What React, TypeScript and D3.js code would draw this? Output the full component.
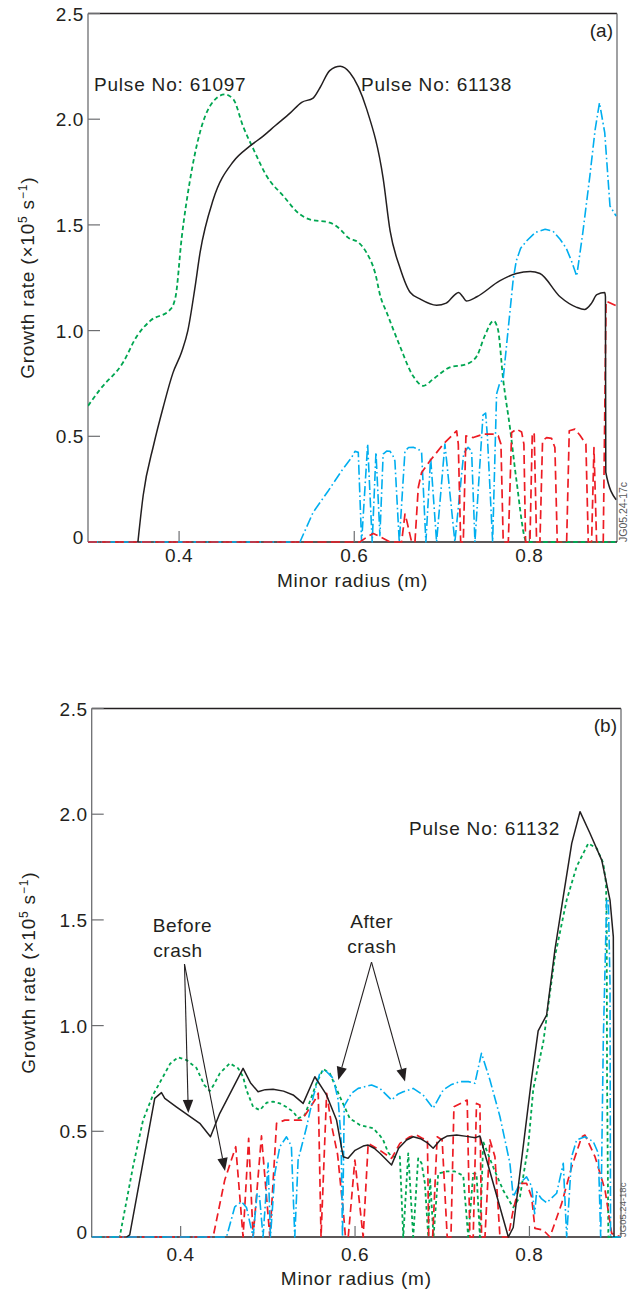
import React from 'react';
import * as d3 from 'd3';

type Pt = [number, number];

const W = 628;
const H = 1294;
const FONT = "'Liberation Sans', Arial, Helvetica, sans-serif";
const INK = '#231f20';
const AXIS_GREY = '#6d6e71';
const GREEN = '#00a651';
const RED = '#ed1c24';
const BLUE = '#00aeef';

// Axis ticks shared by both panels
const xTicks = [0.4, 0.6, 0.8];
const xTickLabels = ['0.4', '0.6', '0.8'];
const yTicks = [0, 0.5, 1.0, 1.5, 2.0, 2.5];
const yTickLabels = ['0', '0.5', '1.0', '1.5', '2.0', '2.5'];

// ---------- Panel (a): growth rate vs minor radius ----------
// Pulse 61138, solid
const a61138: Pt[] = [
  [0.353, 0], [0.359, 0.22], [0.371, 0.46], [0.382, 0.64], [0.393, 0.8], [0.403, 0.9],
  [0.41, 1.0], [0.418, 1.2], [0.424, 1.37], [0.439, 1.62], [0.462, 1.8], [0.48, 1.87],
  [0.496, 1.92], [0.51, 1.97], [0.527, 2.03], [0.54, 2.08], [0.553, 2.1], [0.561, 2.15],
  [0.572, 2.23], [0.584, 2.25], [0.595, 2.22], [0.614, 2.05], [0.633, 1.72], [0.641, 1.47],
  [0.652, 1.3], [0.664, 1.18], [0.675, 1.15], [0.694, 1.12], [0.705, 1.13], [0.715, 1.17],
  [0.719, 1.18], [0.724, 1.16], [0.728, 1.14], [0.74, 1.16], [0.766, 1.235], [0.785, 1.27],
  [0.801, 1.28], [0.812, 1.27], [0.835, 1.16], [0.854, 1.11], [0.863, 1.1], [0.871, 1.13],
  [0.877, 1.17], [0.886, 1.18], [0.8868, 1.16], [0.8872, 0.33], [0.899, 0.2],
];
// Pulse 61097, short dashes
const a61097: Pt[] = [
  [0.296, 0.644], [0.31, 0.723], [0.336, 0.849], [0.352, 0.975], [0.367, 1.046], [0.39, 1.1],
  [0.396, 1.16], [0.403, 1.44], [0.412, 1.7], [0.424, 1.94], [0.435, 2.06], [0.452, 2.117],
  [0.462, 2.094], [0.473, 1.967], [0.485, 1.857], [0.5, 1.731], [0.519, 1.637], [0.538, 1.55],
  [0.549, 1.526], [0.572, 1.511], [0.584, 1.479], [0.593, 1.44], [0.605, 1.416], [0.614, 1.369],
  [0.624, 1.27], [0.63, 1.16], [0.637, 1.086], [0.652, 0.928], [0.667, 0.786], [0.679, 0.739],
  [0.69, 0.77], [0.709, 0.826], [0.728, 0.841], [0.74, 0.88], [0.749, 0.975], [0.759, 1.046],
  [0.764, 1.007], [0.77, 0.77], [0.778, 0.534], [0.785, 0.298], [0.797, 0], [0.9, 0],
];
// Dash-dot mode spectrum
const aDashDot: Pt[] = [
  [0.296, 0], [0.538, 0], [0.553, 0.14], [0.57, 0.24], [0.5856, 0.337], [0.597, 0.4],
  [0.6008, 0.429], [0.6046, 0.424], [0.6084, 0], [0.6153, 0.463], [0.6205, 0], [0.6248, 0.424],
  [0.6293, 0.03], [0.633, 0.416], [0.637, 0.43], [0.6408, 0.429], [0.644, 0.41], [0.6464, 0.384],
  [0.6514, 0], [0.6579, 0.43], [0.662, 0.447], [0.6673, 0.448], [0.673, 0.44], [0.6769, 0.424],
  [0.6818, 0], [0.6872, 0.4], [0.694, 0], [0.7035, 0.463], [0.7149, 0], [0.725, 0.42],
  [0.73, 0.448], [0.734, 0.43], [0.7378, 0], [0.747, 0.6], [0.75, 0.61], [0.752, 0.5],
  [0.758, 0], [0.7625, 0.7], [0.766, 0.75], [0.77, 0.77], [0.7815, 1.243], [0.785, 1.33],
  [0.79, 1.39], [0.797, 1.425], [0.807, 1.465], [0.818, 1.479], [0.827, 1.47], [0.835, 1.432],
  [0.842, 1.39], [0.848, 1.33], [0.854, 1.258], [0.861, 1.464], [0.869, 1.731], [0.875, 1.95],
  [0.88, 2.078], [0.886, 1.936], [0.892, 1.589], [0.899, 1.542],
];
// Long-dash mode spectrum
const aLongDash: Pt[] = [
  [0.296, 0], [0.6065, 0], [0.615, 0.025], [0.6218, 0.04], [0.6294, 0.025], [0.6408, 0],
  [0.6541, 0], [0.6579, 0.132], [0.66, 0.1], [0.6655, 0], [0.6693, 0], [0.6731, 0.258],
  [0.6769, 0.329], [0.6865, 0.384], [0.7017, 0.463], [0.7169, 0.526], [0.7188, 0.463],
  [0.7215, 0], [0.7245, 0], [0.7275, 0.502], [0.7359, 0.494], [0.7473, 0.51], [0.7587, 0.51],
  [0.7644, 0.502], [0.7675, 0.463], [0.7701, 0], [0.7759, 0], [0.7797, 0.518], [0.7854, 0.534],
  [0.7911, 0.52], [0.7937, 0.463], [0.7956, 0], [0.8006, 0], [0.8033, 0.518], [0.8055, 0.51],
  [0.8082, 0], [0.812, 0], [0.815, 0.479], [0.8196, 0.494], [0.8253, 0.49], [0.8291, 0.447],
  [0.8318, 0], [0.8425, 0], [0.8455, 0.526], [0.852, 0.534], [0.8577, 0.505], [0.8645, 0.463],
  [0.8672, 0], [0.871, 0], [0.8737, 0.447], [0.8767, 0], [0.8843, 0], [0.8875, 1.14],
  [0.8995, 1.117],
];

// ---------- Panel (b): pulse 61132 ----------
const b61132: Pt[] = [
  [0.338, 0], [0.3416, 0.01], [0.3703, 0.656], [0.378, 0.683], [0.3818, 0.656], [0.395, 0.616],
  [0.4219, 0.538], [0.4342, 0.474], [0.4449, 0.585], [0.4716, 0.798], [0.48, 0.73],
  [0.4888, 0.687], [0.497, 0.697], [0.506, 0.699], [0.518, 0.69], [0.529, 0.672],
  [0.5405, 0.632], [0.5539, 0.758], [0.5673, 0.672], [0.5788, 0.553], [0.5864, 0.38],
  [0.592, 0.372], [0.6, 0.41], [0.6093, 0.43], [0.615, 0.435], [0.622, 0.42], [0.6285, 0.396],
  [0.6419, 0.341], [0.65, 0.42], [0.6591, 0.459], [0.6667, 0.474], [0.675, 0.465],
  [0.683, 0.445], [0.6896, 0.42], [0.698, 0.46], [0.706, 0.478], [0.7165, 0.483],
  [0.728, 0.476], [0.738, 0.47], [0.7432, 0.478], [0.7758, 0], [0.7814, 0.045], [0.8025, 0.75],
  [0.81, 0.975], [0.8197, 1.05], [0.8292, 1.358], [0.8388, 1.61], [0.8485, 1.862], [0.858, 2.012],
  [0.8694, 1.91], [0.8829, 1.783], [0.8924, 1.594], [0.8962, 1.42], [0.8966, 0.743], [0.897, 0],
];
const bShortDash: Pt[] = [
  [0.298, 0], [0.3301, 0], [0.3454, 0.333], [0.3569, 0.553], [0.3683, 0.672], [0.3798, 0.758],
  [0.388, 0.82], [0.397, 0.85], [0.4067, 0.837], [0.4181, 0.8], [0.427, 0.72], [0.4334, 0.69],
  [0.438, 0.72], [0.4449, 0.774], [0.4563, 0.822], [0.4659, 0.798], [0.4716, 0.758],
  [0.4755, 0.695], [0.4831, 0.616], [0.4908, 0.6], [0.4985, 0.635], [0.506, 0.64],
  [0.5137, 0.632], [0.5213, 0.615], [0.529, 0.593], [0.5347, 0.561], [0.5424, 0.577],
  [0.549, 0.65], [0.5558, 0.727], [0.5634, 0.795], [0.5711, 0.774], [0.5826, 0.664],
  [0.594, 0.561], [0.6055, 0.53], [0.6208, 0.514], [0.6285, 0.48], [0.6322, 0.459],
  [0.638, 0.4], [0.6419, 0.38], [0.6514, 0.38], [0.6553, 0], [0.661, 0.396], [0.6667, 0],
  [0.6724, 0.372], [0.6763, 0.349], [0.6801, 0.254], [0.684, 0], [0.686, 0.28], [0.69, 0],
  [0.6954, 0.3], [0.705, 0.31], [0.7145, 0.31], [0.7241, 0.29], [0.7298, 0], [0.7355, 0.3],
  [0.7393, 0.3], [0.7432, 0], [0.747, 0.45], [0.7585, 0.33], [0.77, 0.22], [0.7814, 0.14],
  [0.7891, 0.19], [0.7986, 0.43], [0.8044, 0.7], [0.8158, 0.92], [0.8292, 1.326],
  [0.8427, 1.594], [0.8541, 1.752], [0.8675, 1.862], [0.8771, 1.839], [0.8847, 1.768],
  [0.8878, 1.673], [0.8886, 1.484], [0.889, 0.75], [0.8905, 0], [0.905, 0],
];
const bDashDot: Pt[] = [
  [0.298, 0], [0.4526, 0], [0.4621, 0.143], [0.4698, 0.167], [0.4755, 0.14], [0.4831, 0],
  [0.4877, 0.207], [0.4905, 0.19], [0.4945, 0], [0.5003, 0.35], [0.503, 0], [0.508, 0.3],
  [0.5137, 0.427], [0.5214, 0.474], [0.527, 0.43], [0.5309, 0], [0.5347, 0.364], [0.5444, 0.52],
  [0.5521, 0.664], [0.5596, 0.774], [0.5654, 0.79], [0.5749, 0.751], [0.5807, 0.648],
  [0.584, 0.46], [0.5856, 0], [0.5876, 0.62], [0.596, 0.68], [0.6036, 0.703], [0.619, 0.719],
  [0.6285, 0.703], [0.6419, 0.648], [0.649, 0.675], [0.6553, 0.687], [0.6667, 0.703],
  [0.678, 0.672], [0.6896, 0.609], [0.701, 0.695], [0.71, 0.72], [0.7202, 0.735], [0.73, 0.735],
  [0.7374, 0.727], [0.745, 0.869], [0.7547, 0.743], [0.7662, 0.569], [0.7776, 0.349],
  [0.7814, 0.19], [0.7891, 0.254], [0.7967, 0.285], [0.8025, 0.24], [0.806, 0.11],
  [0.8082, 0.214], [0.814, 0.18], [0.8197, 0.162], [0.8312, 0.207], [0.8388, 0.349],
  [0.8427, 0], [0.8484, 0.38], [0.8541, 0.459], [0.8637, 0.474], [0.8732, 0.451], [0.879, 0.396],
  [0.8817, 0], [0.8847, 0.93], [0.8886, 1.6], [0.8905, 1.59], [0.8924, 1.2], [0.893, 0], [0.905, 0],
];
const bLongDash: Pt[] = [
  [0.298, 0], [0.4372, 0], [0.4506, 0.27], [0.4632, 0.427], [0.4716, 0], [0.478, 0.467],
  [0.4831, 0], [0.4927, 0.478], [0.5023, 0], [0.51, 0.538], [0.5195, 0.553], [0.5387, 0.553],
  [0.5482, 0.61], [0.554, 0.648], [0.5578, 0.68], [0.561, 0], [0.5674, 0.68], [0.573, 0.53],
  [0.58, 0.39], [0.587, 0.1], [0.589, 0], [0.5922, 0], [0.5998, 0.364], [0.6093, 0],
  [0.6151, 0.443], [0.6285, 0.41], [0.6419, 0.372], [0.6515, 0.443], [0.6629, 0.474],
  [0.6706, 0.482], [0.678, 0.465], [0.683, 0.46], [0.6845, 0], [0.689, 0], [0.6942, 0.474],
  [0.6999, 0.459], [0.7057, 0], [0.71, 0], [0.7134, 0.616], [0.7286, 0.648], [0.7317, 0],
  [0.7355, 0], [0.7393, 0.632], [0.7432, 0.624], [0.7451, 0], [0.749, 0], [0.7547, 0.459],
  [0.7604, 0.38], [0.7662, 0], [0.7757, 0], [0.7814, 0.128], [0.7891, 0.254], [0.7967, 0.254],
  [0.8025, 0.19], [0.8063, 0.041], [0.8158, 0.033], [0.8235, 0], [0.837, 0.159], [0.8485, 0.333],
  [0.86, 0.474], [0.8637, 0.482], [0.8752, 0.38], [0.8867, 0.222], [0.8943, 0.017], [0.905, 0],
];

interface SeriesSpec {
  data: Pt[];
  color: string;
  width: number;
  dash?: string;
  smooth?: boolean;
}

interface PanelProps {
  id: string;
  left: number;
  right: number;
  top: number;
  bottom: number;
  xDomain: [number, number];
  series: SeriesSpec[];
  tag: string;
  code: string;
  codeX: number;
  codeSize: number;
  tickLabelY: number;
  xLabelY: number;
  yLabelX: number;
  labels: { text: string; x: number; y: number }[];
  notes?: { lines: { text: string; cx: number; y: number }[]; from: Pt; tips: Pt[] }[];
}

function Arrow({ x1, y1, x2, y2 }: { x1: number; y1: number; x2: number; y2: number }) {
  const a = Math.atan2(y2 - y1, x2 - x1);
  const len = 13;
  const half = 5.2;
  const bx = x2 - len * Math.cos(a);
  const by = y2 - len * Math.sin(a);
  const px = -Math.sin(a) * half;
  const py = Math.cos(a) * half;
  return (
    <g>
      <line x1={x1} y1={y1} x2={bx} y2={by} stroke={INK} strokeWidth={1.1} />
      <path d={`M${x2},${y2}L${bx + px},${by + py}L${bx - px},${by - py}Z`} fill={INK} />
    </g>
  );
}

function Panel(p: PanelProps) {
  const x = d3.scaleLinear().domain(p.xDomain).range([p.left, p.right]);
  const y = d3.scaleLinear().domain([0, 2.5]).range([p.bottom, p.top]);
  const path = (s: SeriesSpec) =>
    d3
      .line<Pt>()
      .x((d) => x(d[0]))
      .y((d) => y(d[1]))
      .curve(s.smooth ? d3.curveMonotoneX : d3.curveLinear)(s.data) || '';
  const midY = (p.top + p.bottom) / 2;
  const midX = (p.left + p.right) / 2;
  return (
    <g>
      <defs>
        <clipPath id={`clip-${p.id}`}>
          <rect x={p.left} y={p.top - 3} width={p.right - p.left} height={p.bottom - p.top + 5} />
        </clipPath>
      </defs>
      {/* frame */}
      <line x1={p.left} y1={p.top} x2={p.right} y2={p.top} stroke={INK} strokeWidth={1.3} />
      <line x1={p.right} y1={p.top} x2={p.right} y2={p.bottom} stroke={AXIS_GREY} strokeWidth={1.3} />
      <line x1={p.left} y1={p.top} x2={p.left} y2={p.bottom} stroke={AXIS_GREY} strokeWidth={1.3} />
      <line x1={p.left} y1={p.bottom} x2={p.right} y2={p.bottom} stroke={INK} strokeWidth={1.3} />
      {/* ticks */}
      {yTicks.map((t, i) => (
        <g key={`yt${i}`}>
          <line x1={p.left} x2={p.left + 12} y1={y(t)} y2={y(t)} stroke={AXIS_GREY} strokeWidth={1.2} />
          <text
            x={p.left - 4}
            y={t === 0 ? y(t) + 1.5 : y(t) + 7}
            textAnchor="end"
            fontSize={19}
            letterSpacing={0.6}
            fill={INK}
          >
            {yTickLabels[i]}
          </text>
        </g>
      ))}
      {xTicks.map((t, i) => (
        <g key={`xt${i}`}>
          <line x1={x(t)} x2={x(t)} y1={p.bottom} y2={p.bottom - 11} stroke={AXIS_GREY} strokeWidth={1.2} />
          <text x={x(t)} y={p.tickLabelY} textAnchor="middle" fontSize={19} letterSpacing={0.6} fill={INK}>
            {xTickLabels[i]}
          </text>
        </g>
      ))}
      {/* axis titles */}
      <text x={midX} y={p.xLabelY} textAnchor="middle" fontSize={19} letterSpacing={0.8} fill={INK}>
        Minor radius (m)
      </text>
      <text
        transform={`translate(${p.yLabelX},${midY}) rotate(-90)`}
        textAnchor="middle"
        fontSize={19}
        letterSpacing={0.8}
        fill={INK}
      >
        Growth rate (×10
        <tspan fontSize={12} dy={-7}>5</tspan>
        <tspan dy={7}> s</tspan>
        <tspan fontSize={12} dy={-7}>−1</tspan>
        <tspan dy={7}>)</tspan>
      </text>
      {/* curves */}
      <g clipPath={`url(#clip-${p.id})`} fill="none" strokeLinejoin="round">
        {p.series.map((s, i) => (
          <path key={i} d={path(s)} stroke={s.color} strokeWidth={s.width} strokeDasharray={s.dash} />
        ))}
      </g>
      {/* annotations */}
      <text x={p.right - 4} y={p.top + 23} textAnchor="end" fontSize={19} fill={INK}>
        {p.tag}
      </text>
      {p.labels.map((l, i) => (
        <text key={i} x={l.x} y={l.y} fontSize={19} letterSpacing={0.8} fill={INK}>
          {l.text}
        </text>
      ))}
      {(p.notes || []).map((n, i) => (
        <g key={`n${i}`}>
          {n.lines.map((l, j) => (
            <text key={j} x={l.cx} y={l.y} textAnchor="middle" fontSize={19} letterSpacing={0.6} fill={INK}>
              {l.text}
            </text>
          ))}
          {n.tips.map((t, j) => (
            <Arrow key={j} x1={x(n.from[0])} y1={y(n.from[1])} x2={x(t[0])} y2={y(t[1])} />
          ))}
        </g>
      ))}
      <text
        transform={`translate(${p.codeX},${p.bottom}) rotate(-90)`}
        fontSize={p.codeSize}
        fill="#58595b"
      >
        {p.code}
      </text>
    </g>
  );
}

export default function App() {
  return (
    <svg
      width={W}
      height={H}
      viewBox={`0 0 ${W} ${H}`}
      style={{ position: 'absolute', left: 0, top: 0, display: 'block', background: '#fff' }}
      fontFamily={FONT}
    >
      <rect width={W} height={H} fill="#fff" />
      <Panel
        id="a"
        left={88}
        right={617}
        top={13.5}
        bottom={542}
        xDomain={[0.296, 0.9]}
        tag="(a)"
        code="JG05.24-17c"
        codeX={627}
        codeSize={10.5}
        tickLabelY={561.7}
        xLabelY={587}
        yLabelX={33.5}
        labels={[
          { text: 'Pulse No: 61097', x: 94, y: 90.7 },
          { text: 'Pulse No: 61138', x: 361, y: 90.7 },
        ]}
        series={[
          { data: a61097, color: GREEN, width: 1.8, dash: '4.5 3', smooth: true },
          { data: aDashDot, color: BLUE, width: 1.6, dash: '10 3 1.6 3' },
          { data: aLongDash, color: RED, width: 1.7, dash: '9 4.5' },
          { data: a61138, color: INK, width: 1.5, smooth: true },
        ]}
      />
      <Panel
        id="b"
        left={91.7}
        right={621}
        top={708.5}
        bottom={1237}
        xDomain={[0.298, 0.905]}
        tag="(b)"
        code="JG05.24-18c"
        codeX={626.3}
        codeSize={9.5}
        tickLabelY={1260.5}
        xLabelY={1285}
        yLabelX={35}
        labels={[{ text: 'Pulse No: 61132', x: 409, y: 835 }]}
        notes={[
          {
            lines: [
              { text: 'Before', cx: 182.5, y: 931.7 },
              { text: 'crash', cx: 178, y: 956.7 },
            ],
            from: [0.4044, 1.291],
            tips: [
              [0.4088, 0.587],
              [0.4509, 0.312],
            ],
          },
          {
            lines: [
              { text: 'After', cx: 371.7, y: 928.3 },
              { text: 'crash', cx: 372, y: 953.3 },
            ],
            from: [0.6189, 1.3],
            tips: [
              [0.5808, 0.743],
              [0.6573, 0.735],
            ],
          },
        ]}
        series={[
          { data: bShortDash, color: GREEN, width: 1.8, dash: '3.5 3' },
          { data: bLongDash, color: RED, width: 1.7, dash: '8 4.5' },
          { data: bDashDot, color: BLUE, width: 1.6, dash: '10 3 1.6 3' },
          { data: b61132, color: INK, width: 1.5 },
        ]}
      />
    </svg>
  );
}
